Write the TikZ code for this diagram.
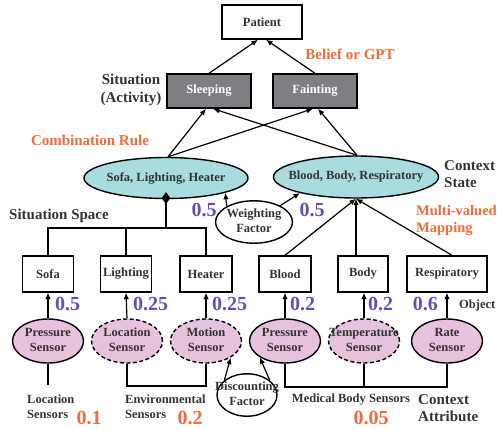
\documentclass[tikz,border=0pt]{standalone}
\usepackage{fontspec}
\setmainfont{Liberation Serif}
\usetikzlibrary{shapes.geometric,arrows.meta,calc}
\definecolor{txt}{HTML}{333333}
\definecolor{teal1}{HTML}{A8DCDE}
\definecolor{pink1}{HTML}{E7C2DE}
\definecolor{gray1}{HTML}{7E7F83}
\definecolor{purp}{HTML}{6A4BB2}
\definecolor{oran}{HTML}{F26B38}
\newcommand{\smf}{\bfseries\fontsize{12.5}{15}\selectfont}
\newcommand{\bgf}{\bfseries\fontsize{15}{17.5}\selectfont}
\newcommand{\nmf}{\bfseries\fontsize{20}{22}\selectfont}
\newcommand{\mtxt}[1]{\makebox[0pt]{\begin{tabular}{@{}c@{}}#1\end{tabular}}}
\begin{document}
\begin{tikzpicture}[x=1pt,y=-1pt,
  every node/.style={text=txt, font=\smf},
  box/.style={draw=black, line width=1.4pt, fill=white, rectangle, inner sep=0, minimum height=36pt},
  gbox/.style={draw=black, line width=1.4pt, fill=gray1, rectangle, inner sep=0, minimum width=84pt, minimum height=34pt, text=white},
  tell/.style={draw=black, line width=1.4pt, fill=teal1, ellipse, inner sep=0},
  pell/.style={draw=black, line width=1.4pt, fill=pink1, ellipse, inner sep=0, minimum width=71pt, minimum height=44pt},
  wel/.style={draw=black, line width=1.4pt, fill=white, ellipse, inner sep=0},
  dsh/.style={dash pattern=on 4pt off 2.5pt},
  arr/.style={-{Latex[length=6.5pt,width=5.5pt]}, line width=1.2pt},
  ln/.style={line width=1.2pt},
  lab/.style={font=\bgf, inner sep=0},
  olab/.style={font=\bgf, inner sep=0, text=oran},
  pnum/.style={font=\nmf, inner sep=0, text=purp},
  onum/.style={font=\nmf, inner sep=0, text=oran},
  slab/.style={font=\smf, inner sep=0, align=left}
]
\useasboundingbox (0,0) rectangle (501,429);

% top boxes
\node[box, minimum width=80pt, minimum height=34pt] (patient) at (262,22) {Patient};
\node[gbox] (sleep) at (209,91) {Sleeping};
\node[gbox] (faint) at (315,91) {Fainting};

% context state ellipses
\node[tell, minimum width=164pt, minimum height=41pt] (ell) at (166,178) {\makebox[0pt]{Sofa, Lighting, Heater}};
\node[tell, minimum width=165pt, minimum height=42pt] (elr) at (356,177) {\makebox[0pt]{Blood, Body, Respiratory}};

% weighting factor
\node[wel, minimum width=77pt, minimum height=35pt] (wf) at (254,222) {\mtxt{Weighting\\Factor}};

% object boxes
\node[box, minimum width=51pt] (sofa) at (48,274) {Sofa};
\node[box, minimum width=51pt] (light) at (126,274) {Lighting};
\node[box, minimum width=52pt] (heat) at (206,274) {Heater};
\node[box, minimum width=52pt] (blood) at (285,274) {Blood};
\node[box, minimum width=50pt] (body) at (363,274) {Body};
\node[box, minimum width=80pt] (resp) at (447,274) {Respiratory};

% sensors
\node[pell] (ps1) at (48,341) {\mtxt{Pressure\\Sensor}};
\node[pell,dsh] (ls) at (127,341) {\mtxt{Location\\Sensor}};
\node[pell,dsh] (ms) at (206,341) {\mtxt{Motion\\Sensor}};
\node[pell] (ps2) at (285,341) {\mtxt{Pressure\\Sensor}};
\node[pell,dsh] (ts) at (364,341) {\mtxt{Temperature\\Sensor}};
\node[pell] (rs) at (447,341) {\mtxt{Rate\\Sensor}};

% discounting factor
\node[wel, minimum width=60pt, minimum height=34pt] (df) at (247,395) {\mtxt{Discounting\\Factor}};

% connectors: top
\draw[arr] (sleep.north) -- ($(patient.south)+(-4,0)$);
\draw[arr] (faint.north) -- ($(patient.south)+(4,0)$);
\draw[arr] ($(ell.north)+(2,0)$) -- ($(sleep.south)+(-3,0)$);
\draw[arr] ($(ell.north)+(2,0)$) -- ($(faint.south)+(-2,0)$);
\draw[arr] ($(elr.north)+(1,0)$) -- ($(sleep.south)+(4,0)$);
\draw[arr] ($(elr.north)+(1,0)$) -- ($(faint.south)+(3,0)$);

% weighting arrows
\draw[arr] (wf.150) -- (ell.-14);
\draw[arr] (wf.32) -- (elr.-164);

% situation space tree
\node[diamond, fill=black, inner sep=0, minimum width=9pt, minimum height=12pt] (dia) at (166,198) {};
\coordinate (hb) at (166,228);
\draw[line width=2.6pt] (dia.center) -- (hb);
\draw[line width=2.6pt, line cap=rect] (sofa.north) |- (heat.north |- hb);
\draw[line width=1.8pt] (light.north) -- (light.north |- hb);
\draw[line width=1.8pt] (heat.north) -- (heat.north |- hb);

% multi-valued mapping
\draw[arr] (blood.north) -- (elr.south);
\draw[arr] (elr.south |- body.north) -- (elr.south);
\draw[arr] ($(resp.north)+(5,0)$) -- (elr.south);

% sensor to object arrows
\draw[arr] (ps1.north) -- (sofa.south);
\draw[arr] (ls.north) -- (light.south);
\draw[arr] (ms.north) -- (heat.south);
\draw[arr] (ps2.north) -- (blood.south);
\draw[arr] (ts.north) -- (ts.north |- body.south);
\draw[arr] (rs.north) -- (resp.south);

% discounting arrows
\draw[arr] (df.147) -- (ms.-34);
\draw[arr] (df.33) -- (ps2.-147);

% bottom sensor groups
\coordinate (b1) at (48,385);
\draw[ln] (ps1.south) -- (b1);
\coordinate (b2) at (166,386);
\draw[ln] (ls.south) |- (b2) -| (ms.south);
\coordinate (b3) at (364,387);
\draw[ln] (ps2.south) |- (b3) -| (rs.south);
\draw[ln] (ts.south) -- (ts.south |- b3);

% labels
\node[lab, align=center] (sitact) at (131,90) {Situation\\(Activity)};
\node[olab] (belief) at (350,54) {Belief or GPT};
\node[olab] (comb) at (90,140) {Combination Rule};
\node[lab] (sitsp) at (59,216) {Situation Space};
\node[lab, anchor=west, align=left] (cstate) at (444,174) {Context\\State};
\node[olab, anchor=west, align=left, font=\bfseries\fontsize{14.5}{17}\selectfont] (mvm) at (416,221) {Multi-valued\\Mapping};
\node[pnum] (w1) at (204,210) {0.5};
\node[pnum] (w2) at (312,210) {0.5};

\node[pnum, anchor=west] (n1) at (55,304) {0.5};
\node[pnum, anchor=west] (n2) at (133,304) {0.25};
\node[pnum, anchor=west] (n3) at (212,304) {0.25};
\node[pnum, anchor=west] (n4) at (290,304) {0.2};
\node[pnum, anchor=west] (n5) at (368,304) {0.2};
\node[pnum, anchor=east] (n6) at (438,304) {0.6};
\node[slab, anchor=west] (obj) at (459,305) {Object};

\node[slab, anchor=west] (locs) at (27,407) {Location\\Sensors};
\node[onum] (o1) at (89,418) {0.1};
\node[slab, anchor=west] (envs) at (125,407) {Environmental\\Sensors};
\node[onum] (o2) at (190,418) {0.2};
\node[slab] (meds) at (351,400) {Medical Body Sensors};
\node[onum] (o3) at (371,418) {0.05};
\node[lab, anchor=west, align=left] (cattr) at (418,408) {Context\\Attribute};
\end{tikzpicture}
\end{document}
